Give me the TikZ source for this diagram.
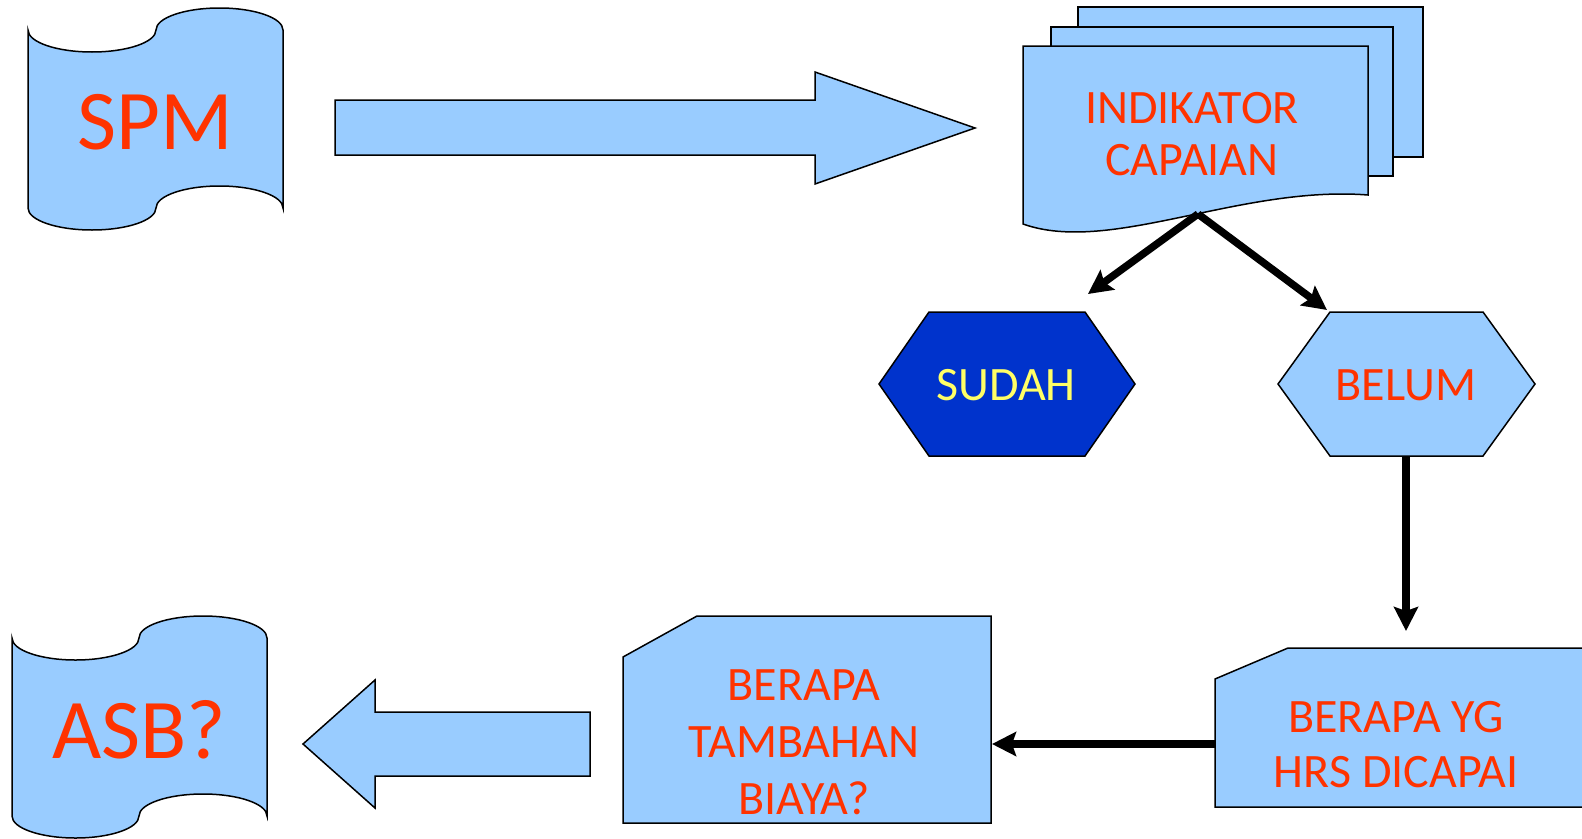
\documentclass[tikz,border=0pt]{standalone}
\usepackage{fontspec}
\setmainfont{Carlito}
\usetikzlibrary{arrows.meta}
\definecolor{lightblue}{HTML}{99CCFF}
\definecolor{darkblue}{HTML}{0033CC}
\definecolor{txtred}{HTML}{FF3300}
\definecolor{txtyellow}{HTML}{FFFF66}

\begin{document}
\begin{tikzpicture}[x=1pt, y=-1pt,
  block/.style={draw=black, fill=lightblue, line width=1.5pt},
  bigtxt/.style={text=txtred, font=\fontsize{85}{92}\selectfont, inner sep=0pt},
  txt/.style={text=txtred, font=\fontsize{48}{52}\selectfont, align=center, inner sep=0pt},
  conn/.style={line width=7.5pt, -{Stealth[length=24pt, width=24pt, inset=4pt]}}
  ]
  \useasboundingbox (0,0) rectangle (1582,838);
  \clip (0,0) rectangle (1582,838);

  % tapes
  \filldraw[block] (28,30) arc[start angle=180, end angle=0, x radius=64, y radius=22]
    arc[start angle=180, end angle=360, x radius=63.5, y radius=22] -- (283,208)
    arc[start angle=0, end angle=-180, x radius=63.5, y radius=22]
    arc[start angle=0, end angle=180, x radius=64, y radius=22] -- cycle;
  \filldraw[block] (12,638) arc[start angle=180, end angle=0, x radius=63.5, y radius=22]
    arc[start angle=180, end angle=360, x radius=64, y radius=22] -- (267,816)
    arc[start angle=0, end angle=-180, x radius=64, y radius=22]
    arc[start angle=0, end angle=180, x radius=63.5, y radius=22] -- cycle;

  % block arrows
  \filldraw[block] (335,100) -- (815,100) -- (815,72) -- (975,128) -- (815,184)
    -- (815,155) -- (335,155) -- cycle;
  \filldraw[block] (590,712) -- (375,712) -- (375,680) -- (303,744) -- (375,808)
    -- (375,776) -- (590,776) -- cycle;

  % document stack
  \filldraw[block] (1078,7) rectangle (1423,157);
  \filldraw[block] (1051,27) rectangle (1393,176);
  \filldraw[block] (1023,46) -- (1368,46) -- (1368,195)
    .. controls (1240,185) and (1110,255) .. (1023,224) -- cycle;

  % hexagons
  \filldraw[block, fill=darkblue] (879,384) -- (929,312) -- (1085,312) -- (1135,384)
    -- (1085,456) -- (929,456) -- cycle;
  \filldraw[block] (1278,384) -- (1330,312) -- (1483,312) -- (1535,384)
    -- (1483,456) -- (1330,456) -- cycle;

  % cut boxes
  \filldraw[block] (1215,679) -- (1288,648) -- (1600,648) -- (1600,807) -- (1215,807) -- cycle;
  \filldraw[block] (623,657) -- (697,616) -- (991,616) -- (991,823) -- (623,823) -- cycle;

  \node[bigtxt] (spm) at (155,122) {SPM};
  \node[bigtxt] (asb) at (139,730) {ASB?};
  \node[txt] (indikator) at (1192,134) {INDIKATOR\\CAPAIAN};
  \node[txt, text=txtyellow] (sudah) at (1006,385) {SUDAH};
  \node[txt] (belum) at (1406,385) {BELUM};
  \node[txt, font=\fontsize{48}{55}\selectfont] (berapayg) at (1396,745) {BERAPA YG\\HRS DICAPAI};
  \node[txt, font=\fontsize{48}{57}\selectfont] (tambahan) at (804,742) {BERAPA\\TAMBAHAN\\BIAYA?};

  \coordinate (indikator-b) at (1198,214);
  \coordinate (sudah-in) at (1088,294);
  \coordinate (belum-in) at (1327,310);
  \coordinate (belum-s) at (1406,456);
  \coordinate (berapayg-n) at (1406,631);
  \coordinate (berapayg-w) at (1215,744);
  \coordinate (tambahan-e) at (992,744);

  \draw[conn] (indikator-b) -- (sudah-in);
  \draw[conn] (indikator-b) -- (belum-in);
  \draw[conn] (belum-s) -- (berapayg-n);
  \draw[conn] (berapayg-w) -- (tambahan-e);
\end{tikzpicture}
\end{document}
